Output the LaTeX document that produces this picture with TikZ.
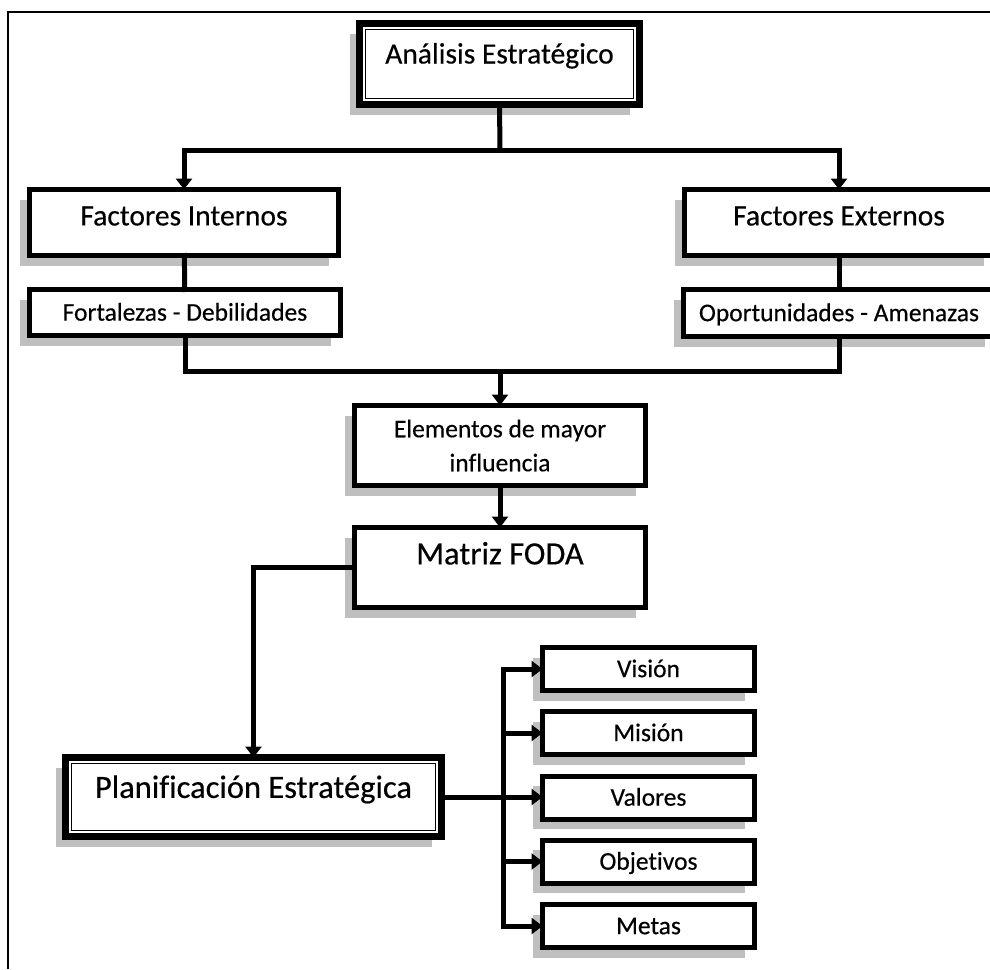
\documentclass[tikz,border=0pt]{standalone}
\usepackage{fontspec}
\setmainfont{Carlito}[Ligatures={NoCommon},FakeBold=0.4]
\usepackage{tikz}
\usetikzlibrary{arrows.meta,shadows}

\begin{document}
\begin{tikzpicture}[x=1pt,y=-1pt,
   caja/.style={draw, line width=5pt, fill=white, outer sep=0pt, inner sep=0pt,
      drop shadow={shadow xshift=-10pt,shadow yshift=-10pt,opacity=1,fill=black!25}},
   doble/.style={caja, line width=7pt},
   grande/.style={font=\fontsize{29.5}{35}\selectfont, text height=22pt},
   mayor/.style={font=\fontsize{32.5}{39}\selectfont, text height=24.4pt},
   normal/.style={font=\fontsize{25.5}{34}\selectfont},
   chica/.style={caja, normal, minimum width=212pt, minimum height=43pt, text height=19.1pt, text depth=2.8pt},
   linea/.style={line width=5pt, line cap=rect},
   flecha/.style={line width=5pt, -{Triangle[length=11pt,width=16pt]}}]
   \useasboundingbox (0,0) rectangle (990,969);
   \draw[line width=1.6pt] (8,969) -- (8,12) -- (990,12);

   \draw (499.5,64) node[doble, grande, minimum width=280pt, minimum height=81pt, text depth=23pt] (analisis) {Análisis Estratégico};
   \draw[line width=1.5pt] ([shift={(6,6)}]analisis.north west) rectangle ([shift={(-6,-6)}]analisis.south east);

   \draw (184,222.5) node[caja, grande, minimum width=309pt, minimum height=66pt, text depth=16.2pt] (internos) {Factores Internos};
   \draw (839,222.5) node[caja, grande, minimum width=309pt, minimum height=66pt, text depth=16.2pt] (externos) {Factores Externos};
   \draw (185,312.5) node[caja, normal, minimum width=311pt, minimum height=46pt, text height=19.1pt, text depth=2.8pt] (fortalezas) {Fortalezas - Debilidades};
   \draw (839,313) node[caja, normal, minimum width=311pt, minimum height=47pt, text height=19.1pt, text depth=2.8pt] (oportunidades) {Oportunidades - Amenazas};

   \draw (500,445.5) node[caja, normal, align=center, minimum width=291pt, minimum height=80pt] (elementos) {Elementos de mayor\\influencia};
   \draw (500,567.5) node[caja, mayor, minimum width=291pt, minimum height=80pt, text depth=30.6pt] (foda) {Matriz FODA};

   \draw (253.5,797) node[doble, mayor, minimum width=376pt, minimum height=79pt, text depth=22.6pt] (planif) {Planificación Estratégica};
   \draw[line width=1.5pt] ([shift={(6,6)}]planif.north west) rectangle ([shift={(-6,-6)}]planif.south east);

   \draw (648.5,669) node[chica] (vision) {Visión};
   \draw (648.5,733) node[chica] (mision) {Misión};
   \draw (648.5,797.5) node[chica] (valores) {Valores};
   \draw (648.5,861.5) node[chica] (objetivos) {Objetivos};
   \draw (648.5,926) node[chica] (metas) {Metas};

   % conectores
   \coordinate (reparto) at (500,150);
   \coordinate (union) at (500,371);
   \coordinate (tronco) at (503,0);
   \draw[linea] (analisis.south) -- (reparto);
   \draw[flecha] (reparto) -| (internos.north);
   \draw[flecha] (reparto) -| (externos.north);
   \path[linea] (internos) edge (fortalezas);
   \path[linea] (externos) edge (oportunidades);
   \draw[line width=5pt] (fortalezas.south) |- (union) -| (oportunidades.south);
   \draw[flecha] (union) -- (elementos.north);
   \path[flecha] (elementos) edge (foda);
   \draw[flecha] (foda.west) -| (planif.north);
   \draw[flecha] (planif.east) -- (planif.east -| valores.west);
   \draw[linea] (tronco |- vision.west) -- (tronco |- metas.west);
   \foreach \n in {vision,mision,objetivos,metas}
      \draw[flecha] (tronco |- \n.west) -- (\n.west);
\end{tikzpicture}
\end{document}
